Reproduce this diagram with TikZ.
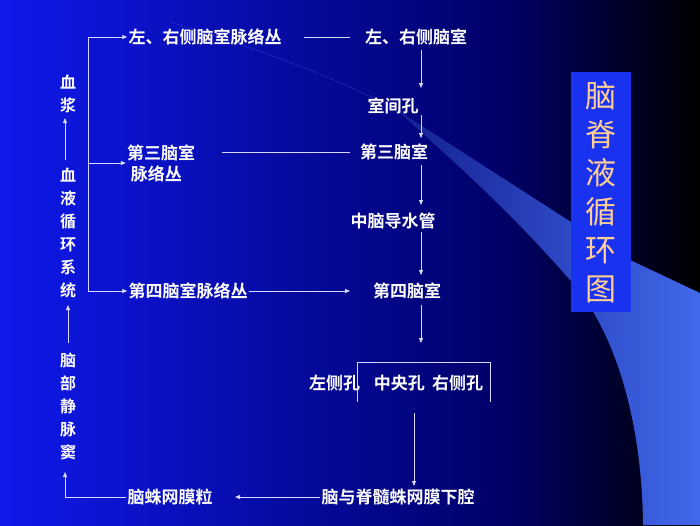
\documentclass[tikz,border=0pt]{standalone}
\usepackage{fontspec}
\newfontfamily\cjk{Noto Sans CJK SC}[BoldFont={Noto Sans CJK SC Bold}]
\usetikzlibrary{arrows.meta}
\definecolor{bgA}{RGB}{15,25,235}
\definecolor{bgB}{RGB}{0,0,105}
\definecolor{swoosh}{RGB}{65,105,235}
\definecolor{ttl}{RGB}{255,205,150}
\definecolor{tbox}{RGB}{25,50,240}
\begin{document}
\begin{tikzpicture}[x=1pt,y=-1pt,
  lbl/.style={text=white,font=\cjk\bfseries\fontsize{17}{21}\selectfont,inner sep=1pt},
  vlbl/.style={lbl,align=center,font=\cjk\bfseries\fontsize{16}{23}\selectfont},
  ln/.style={draw=white!85!blue,line width=0.8pt},
  ar/.style={ln,-{Triangle[length=5pt,width=4pt]}}]
\useasboundingbox (0,0) rectangle (700,525);
\shade[left color=bgA,right color=bgB] (0,0) rectangle (500,525);
\shade[left color=bgB,right color=black] (499,0) rectangle (700,525);
\draw[blue!50!white,opacity=0.35,line width=0.4pt] (170,22) .. controls (280,55) and (350,85) .. (397,110);
\shade[left color=swoosh!30!bgB,right color=swoosh] (397,110) -- (630,260) -- (700,293) -- (700,525) -- (643,525) .. controls (642,420) and (615,330) .. (570,280) .. controls (500,200) and (440,150) .. (397,110) -- cycle;
% title
\node[fill=tbox,minimum width=60pt,minimum height=240pt,inner sep=0pt,text=ttl,font=\cjk\fontsize{31}{38.5}\selectfont,align=center] (ttl) at (601,192) {脑\\脊\\液\\循\\环\\图};
% nodes
\node[lbl] (n1) at (205,37) {左、右侧脑室脉络丛};
\node[lbl] (n2) at (416,37) {左、右侧脑室};
\node[lbl] (n3) at (393,106) {室间孔};
\node[lbl,align=left] (n4) at (161,163) {第三脑室\\\ 脉络丛};
\node[lbl] (n5) at (394,152) {第三脑室};
\node[lbl] (n6) at (393,221) {中脑导水管};
\node[lbl] (n7) at (188,291) {第四脑室脉络丛};
\node[lbl] (n8) at (407,291) {第四脑室};
\node[lbl] (n9) at (396,383) {左侧孔\hspace{14pt}中央孔\hspace{7pt}右侧孔};
\node[lbl] (n10) at (398,497) {脑与脊髓蛛网膜下腔};
\node[lbl] (n11) at (170,497) {脑蛛网膜粒};
\node[vlbl] (v1) at (68,94) {血\\浆};
\node[vlbl] (v2) at (68,233) {血\\液\\循\\环\\系\\统};
\node[vlbl] (v3) at (68,406) {脑\\部\\静\\脉\\窦};
% bracket
\coordinate (bl) at (357,402); \coordinate (br) at (490,402);
\draw[ln] (bl) -- (357,362) -- (490,362) -- (br);
% connectors
\draw[ln] (304,37) -- (350,37);
\draw[ar] (421,50) -- (421,88);
\draw[ar] (421,115) -- (421,138);
\draw[ln] (222,152) -- (350,152);
\draw[ar] (421,165) -- (421,205);
\draw[ar] (421,232) -- (421,275);
\draw[ar] (n7.east) -- (350,291);
\draw[ar] (421,305) -- (421,343);
\draw[ar] (414,413) -- (414,486);
\draw[ar] (n10.west) -- (235,497);
\draw[ar] (n11.west) -- (65,497) -- (65,472);
\draw[ar] (68,343) -- (68,305);
\draw[ar] (65,160) -- (65,118);
\draw[ln] (88,37) -- (88,291);
\draw[ar] (88,37) -- (n1.west);
\draw[ar] (88,163) -- (n4.west);
\draw[ar] (88,291) -- (n7.west);
\end{tikzpicture}
\end{document}
